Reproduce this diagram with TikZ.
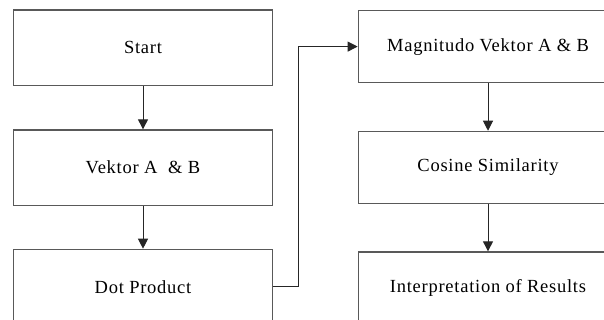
\documentclass[tikz,border=0pt]{standalone}
\usepackage{fontspec}
\setmainfont{Liberation Serif}[LetterSpace=4]
\usetikzlibrary{arrows.meta}
\begin{document}
\begin{tikzpicture}[x=1pt,y=1pt,
  box/.style={draw=black!65, line width=1.3pt, rectangle, minimum width=259.4pt, inner sep=0pt,
    font=\fontsize{18.5}{22}\selectfont, text=black},
  conn/.style={draw=black!85, line width=1pt, -{Triangle[length=10pt,width=10pt]}}]
\useasboundingbox (0,0) rectangle (604,320);
\clip (0,0) rectangle (604,320);
\node[box, minimum height=75.3pt] (start) at (143,272.35) {Start};
\node[box, minimum height=75.3pt] (vek) at (143,152.35) {Vektor A~~\& B};
\node[box, minimum height=75.3pt] (dot) at (143,33) {Dot Product};
\node[box, minimum height=72.2pt] (mag) at (488,273.4) {Magnitudo Vektor A \& B};
\node[box, minimum height=72pt] (cos) at (488,152.6) {Cosine Similarity};
\node[box, minimum height=72pt] (int) at (488,32) {Interpretation of Results};
\draw[conn] (start) -- (vek);
\draw[conn] (vek) -- (dot);
\draw[conn] (dot.east) -- ++(25,0) |- (mag.west);
\draw[conn] (mag) -- (cos);
\draw[conn] (cos) -- (int);
\end{tikzpicture}
\end{document}
